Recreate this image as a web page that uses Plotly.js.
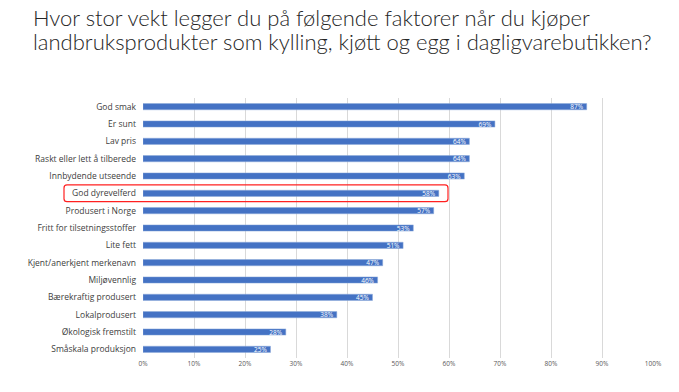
<!DOCTYPE html>
<html><head><meta charset="utf-8">
<script src="https://cdn.plot.ly/plotly-3.0.1.min.js"></script>
<style>html,body{margin:0;padding:0;background:#fff;}#chart{width:679px;height:392px;}</style>
</head><body><div id="chart"></div>
<script>
var categories = ["God smak","Er sunt","Lav pris","Raskt eller lett å tilberede","Innbydende utseende","God dyrevelferd","Produsert i Norge","Fritt for tilsetningsstoffer","Lite fett","Kjent/anerkjent merkenavn","Miljøvennlig","Bærekraftig produsert","Lokalprodusert","Økologisk fremstilt","Småskala produksjon"];
var values = [87,69,64,64,63,58,57,53,51,47,46,45,38,28,25];
var labels = values.map(function(v){return v+"%";});
var titleLines = ["Hvor stor vekt legger du på følgende faktorer når du kjøper","landbruksprodukter som kylling, kjøtt og egg i dagligvarebutikken?"];
var highlight = "God dyrevelferd";
var tickVals = [0,10,20,30,40,50,60,70,80,90,100];
var tickText = tickVals.map(function(v){return v+"%";});

var trace = {
  type:'bar', orientation:'h', x:values, y:categories,
  text:labels, textposition:'inside', insidetextanchor:'end', constraintext:'none',
  textfont:{family:'Open Sans, sans-serif', size:6.5, color:'#ffffff'},
  marker:{color:'#4472C4', line:{color:'#8eaadb', width:0.5}},
  hoverinfo:'none', cliponaxis:false
};
var hi = categories.indexOf(highlight);
// plot area: 143..653 px horizontally, 98..358 px vertically
function px(x){return (x-143)/510;}
function py(y){return 1-(y-98)/260;}
var bandTop = 98 + hi*260/categories.length, bandBot = bandTop + 260/categories.length;
var x0=px(64), x1=px(448), y0=py(bandBot-0.3), y1=py(bandTop+0.3), rx=3/510, ry=3/260;
var rrect = 'M '+(x0+rx)+' '+y1+' L '+(x1-rx)+' '+y1+' Q '+x1+' '+y1+' '+x1+' '+(y1-ry)+
  ' L '+x1+' '+(y0+ry)+' Q '+x1+' '+y0+' '+(x1-rx)+' '+y0+' L '+(x0+rx)+' '+y0+' Q '+x0+' '+y0+' '+x0+' '+(y0+ry)+
  ' L '+x0+' '+(y1-ry)+' Q '+x0+' '+y1+' '+(x0+rx)+' '+y1+' Z';
var layout = {
  width:679, height:392,
  margin:{l:143, r:26, t:98, b:34},
  paper_bgcolor:'#ffffff', plot_bgcolor:'#ffffff',
  bargap:0.64, showlegend:false,
  xaxis:{range:[0,100], tickvals:tickVals, ticktext:tickText, showgrid:true, gridcolor:'#d9d9d9', gridwidth:1,
         zeroline:false, showline:false, ticks:'', tickfont:{family:'Open Sans, sans-serif', size:6.5, color:'#595959'}, fixedrange:true},
  yaxis:{type:'category', autorange:'reversed', showgrid:false, zeroline:false, showline:false, ticks:'',
         ticklabelstandoff:6, tickfont:{family:'Open Sans, sans-serif', size:8.5, color:'#404040'}, fixedrange:true},
  annotations:[
    {text:titleLines[0], xref:'paper', yref:'paper', x:px(31), y:py(2), xanchor:'left', yanchor:'top', showarrow:false,
     font:{family:'Lato, sans-serif', size:22, weight:300, color:'#262626'}},
    {text:titleLines[1], xref:'paper', yref:'paper', x:px(31), y:py(26), xanchor:'left', yanchor:'top', showarrow:false,
     font:{family:'Lato, sans-serif', size:22, weight:300, color:'#262626'}}
  ],
  shapes:[{type:'path', xref:'paper', yref:'paper', path:rrect, line:{color:'#ff2020', width:1.2}, fillcolor:'rgba(0,0,0,0)', layer:'above'}]
};
Plotly.newPlot('chart',[trace],layout,{displayModeBar:false, staticPlot:true});
</script></body></html>
